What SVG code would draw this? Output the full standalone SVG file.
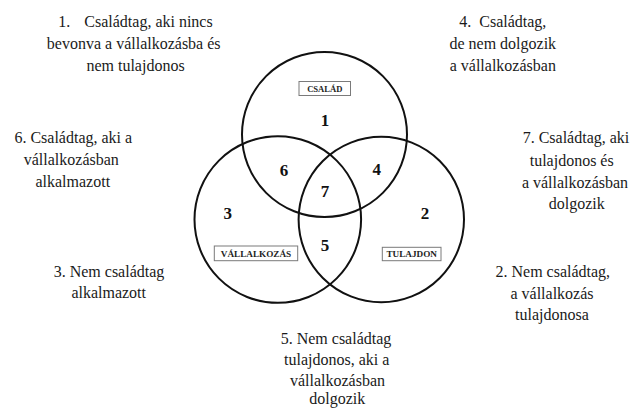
<svg xmlns="http://www.w3.org/2000/svg" width="635" height="409" viewBox="0 0 635 409">
<style>
.bg{fill:#ffffff}
.ring{fill:none;stroke:#111;stroke-width:2}
.tag{fill:#fff;stroke:#7a7a7a;stroke-width:1}
.serif{font-family:'Liberation Serif','Times New Roman',Tinos,'DejaVu Serif',serif}
.tagt{font-weight:bold;fill:#222;text-anchor:middle}
.num{font-weight:bold;font-size:17px;fill:#111;text-anchor:middle}
.note{font-size:16px;fill:#1a1a1a;text-anchor:middle}
</style>
<rect class="bg" x="0" y="0" width="635" height="409"/>
<g id="csalad">
  <circle class="ring" cx="324.5" cy="134.5" r="82.5"/>
  <rect class="tag" x="299" y="81.5" width="51.5" height="14"/>
  <text class="serif tagt" x="324.8" y="91.8" font-size="8.6">CSALÁD</text>
</g>
<g id="vallalkozas">
  <circle class="ring" cx="277.8" cy="219.5" r="83.3"/>
  <rect class="tag" x="214.3" y="246" width="83.4" height="14.7"/>
  <text class="serif tagt" x="256" y="256.6" font-size="9.2">VÁLLALKOZÁS</text>
</g>
<g id="tulajdon">
  <circle class="ring" cx="381.3" cy="219.5" r="82.7"/>
  <rect class="tag" x="382.3" y="247.3" width="58.7" height="13.4"/>
  <text class="serif tagt" x="411.7" y="257.3" font-size="9.2">TULAJDON</text>
</g>
<g id="regions">
  <text class="serif num" x="325" y="126">1</text>
  <text class="serif num" x="284" y="176">6</text>
  <text class="serif num" x="376.7" y="175">4</text>
  <text class="serif num" x="325" y="197">7</text>
  <text class="serif num" x="227.7" y="218.7">3</text>
  <text class="serif num" x="425" y="218.7">2</text>
  <text class="serif num" x="325" y="251">5</text>
</g>
<g id="note1">
  <text class="serif note" x="135.5" y="27.3">1.<tspan dx="14">Családtag, aki nincs</tspan></text>
  <text class="serif note" x="133.7" y="49.3">bevonva a vállalkozásba és</text>
  <text class="serif note" x="135.5" y="70.5">nem tulajdonos</text>
</g>
<g id="note4">
  <text class="serif note" x="502.8" y="27.3">4.<tspan dx="8">Családtag,</tspan></text>
  <text class="serif note" x="502.8" y="49.3">de nem dolgozik</text>
  <text class="serif note" x="502.8" y="70.7">a vállalkozásban</text>
</g>
<g id="note6">
  <text class="serif note" x="73.3" y="143.3">6.<tspan dx="4">Családtag, aki a</tspan></text>
  <text class="serif note" x="71.3" y="165">vállalkozásban</text>
  <text class="serif note" x="72.8" y="186.7">alkalmazott</text>
</g>
<g id="note7">
  <text class="serif note" x="576" y="143.3">7.<tspan dx="4">Családtag, aki</tspan></text>
  <text class="serif note" x="571.7" y="166">tulajdonos és</text>
  <text class="serif note" x="575" y="187.5">a vállalkozásban</text>
  <text class="serif note" x="576.7" y="209">dolgozik</text>
</g>
<g id="note3">
  <text class="serif note" x="109" y="276.7">3. Nem családtag</text>
  <text class="serif note" x="108.7" y="298">alkalmazott</text>
</g>
<g id="note2">
  <text class="serif note" x="552.8" y="277">2.<tspan dx="4">Nem családtag,</tspan></text>
  <text class="serif note" x="552" y="298.5">a vállalkozás</text>
  <text class="serif note" x="552" y="320">tulajdonosa</text>
</g>
<g id="note5">
  <text class="serif note" x="336" y="343.5">5.<tspan dx="4">Nem családtag</tspan></text>
  <text class="serif note" x="336.7" y="364.8">tulajdonos, aki a</text>
  <text class="serif note" x="337.5" y="386">vállalkozásban</text>
  <text class="serif note" x="337.3" y="404">dolgozik</text>
</g>
</svg>
